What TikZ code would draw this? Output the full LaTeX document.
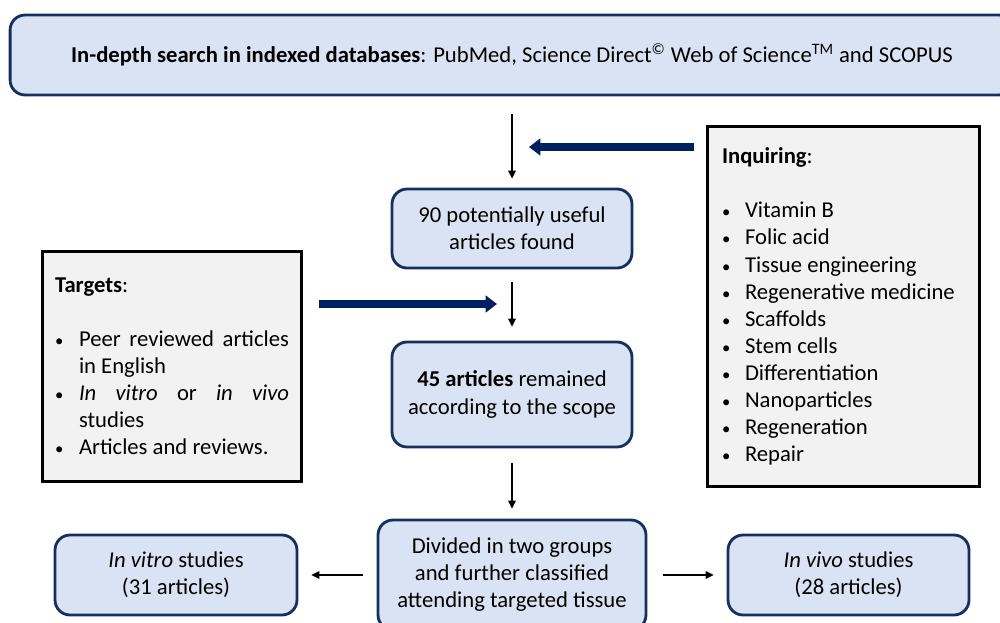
\documentclass[tikz,border=0pt]{standalone}
\usepackage{fontspec}
\setmainfont{Carlito}
\usepackage{tikz}
\usetikzlibrary{arrows.meta,shadows}
\definecolor{navy}{HTML}{002060}
\definecolor{boxline}{HTML}{14305E}
\definecolor{boxfill}{HTML}{DAE3F3}
\definecolor{listfill}{HTML}{F2F2F2}
\newcommand{\bitem}[2]{\par\noindent\hangindent=#1\hangafter=1\makebox[#1][l]{\fontsize{9.5}{9.5}\selectfont\textbullet}#2}
\tikzset{>=Latex,
  box/.style={draw=boxline,fill=boxfill,line width=1.6pt,rounded corners=0.3cm,align=center,inner sep=2pt},
  listbox/.style={draw=black,fill=listfill,line width=1.7pt,inner ysep=2pt,
    drop shadow={shadow xshift=0.6pt,shadow yshift=-0.6pt,fill=black!45,opacity=0.5}},
  flow/.style={draw=black,line width=0.85pt,-{Triangle[length=4.5pt,width=4.2pt]}},
  feed/.style={draw=navy,line width=4.5pt,-{Triangle[length=6.5pt,width=9.5pt]}}}

\begin{document}
\begin{tikzpicture}[x=0.02cm,y=-0.02cm,font=\fontsize{12.9}{15.4}\selectfont]
  \useasboundingbox (0,0) rectangle (1000,622);
  \node[box,minimum width=20.08cm,minimum height=1.6cm] (search) at (512,55)
    {\textbf{In-depth search in indexed databases}: PubMed, Science Direct\textsuperscript{©} Web of Science\textsuperscript{TM} and SCOPUS};
  \node[box,minimum width=4.8cm,minimum height=1.58cm] (found) at (512,228.5)
    {90 potentially useful\\articles found};
  \node[box,minimum width=4.8cm,minimum height=2.1cm] (remained) at (512,394.5)
    {\textbf{45 articles} remained\\according to the scope};
  \node[box,minimum width=5.36cm,minimum height=2.2cm] (divided) at (512,575)
    {Divided in two groups\\and further classified\\attending targeted tissue};
  \node[box,minimum width=4.84cm,minimum height=1.6cm] (invitro) at (176,575)
    {\textit{In vitro} studies\\(31 articles)};
  \node[box,minimum width=4.82cm,minimum height=1.6cm] (invivo) at (848.5,575)
    {\textit{In vivo} studies\\(28 articles)};
  % inclusion criteria
  \node[listbox,text width=4.68cm,inner xsep=0.26cm,minimum height=4.62cm,align=justify] (targets) at (172,366.5)
    {\noindent\textbf{Targets}:\par\strut
     \bitem{0.48cm}{Peer reviewed articles\linebreak in English}
     \bitem{0.48cm}{\textit{In vitro} or \textit{in vivo}\linebreak studies}
     \bitem{0.48cm}{Articles and reviews.}};
  % search terms
  \node[listbox,text width=4.86cm,inner xsep=0.3cm,minimum height=7.22cm,align=flush left] (inquiring) at (843.5,306.5)
    {\noindent\textbf{Inquiring}:\par\strut
     \bitem{0.46cm}{Vitamin B}
     \bitem{0.46cm}{Folic acid}
     \bitem{0.46cm}{Tissue engineering}
     \bitem{0.46cm}{Regenerative medicine}
     \bitem{0.46cm}{Scaffolds}
     \bitem{0.46cm}{Stem cells}
     \bitem{0.46cm}{Differentiation}
     \bitem{0.46cm}{Nanoparticles}
     \bitem{0.46cm}{Regeneration}
     \bitem{0.46cm}{Repair}};
  \coordinate (m1) at (512,147);
  \coordinate (m2) at (511,304);
  \draw[flow,shorten <=0.36cm,shorten >=0.18cm] (search.south) -- (found.north);
  \draw[flow,shorten <=0.26cm,shorten >=0.28cm] (found.south) -- (remained.north);
  \draw[flow,shorten <=0.3cm,shorten >=0.2cm] (remained.south) -- (divided.north);
  \draw[flow,shorten <=0.28cm,shorten >=0.26cm] (divided.west) -- (invitro.east);
  \draw[flow,shorten <=0.32cm,shorten >=0.26cm] (divided.east) -- (invivo.west);
  \draw[feed,shorten <=0.24cm,shorten >=0.34cm] (inquiring.west |- m1) -- (m1);
  \draw[feed,shorten <=0.32cm,shorten >=0.28cm] (targets.east |- m2) -- (m2);
\end{tikzpicture}
\end{document}
